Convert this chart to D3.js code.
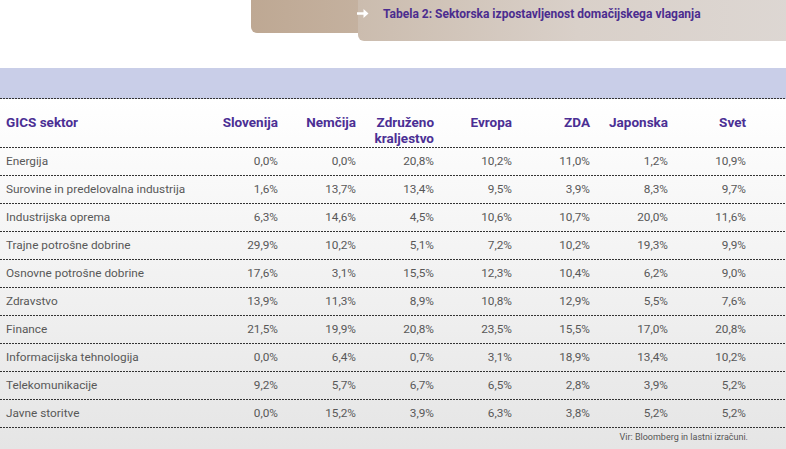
<!DOCTYPE html>
<html><head><meta charset="utf-8">
<script src="https://cdn.jsdelivr.net/npm/d3@7"></script>
<style>html,body{margin:0;padding:0;background:#fff;}svg{display:block;}</style>
</head><body>
<script>
const title = "Tabela 2: Sektorska izpostavljenost domačijskega vlaganja";
const headerLabel = "GICS sektor";
const countries = ["Slovenija","Nemčija","Združeno kraljestvo","Evropa","ZDA","Japonska","Svet"];
const sectors = ["Energija","Surovine in predelovalna industrija","Industrijska oprema","Trajne potrošne dobrine","Osnovne potrošne dobrine","Zdravstvo","Finance","Informacijska tehnologija","Telekomunikacije","Javne storitve"];
const slovenija = [0.0,1.6,6.3,29.9,17.6,13.9,21.5,0.0,9.2,0.0];
const nemcija   = [0.0,13.7,14.6,10.2,3.1,11.3,19.9,6.4,5.7,15.2];
const zdruzeno  = [20.8,13.4,4.5,5.1,15.5,8.9,20.8,0.7,6.7,3.9];
const evropa    = [10.2,9.5,10.6,7.2,12.3,10.8,23.5,3.1,6.5,6.3];
const zda       = [11.0,3.9,10.7,10.2,10.4,12.9,15.5,18.9,2.8,3.8];
const japonska  = [1.2,8.3,20.0,19.3,6.2,5.5,17.0,13.4,3.9,5.2];
const svet      = [10.9,9.7,11.6,9.9,9.0,7.6,20.8,10.2,5.2,5.2];
const source = "Vir: Bloomberg in lastni izračuni.";

const series = [slovenija,nemcija,zdruzeno,evropa,zda,japonska,svet];
const W = 786, H = 449;
const FONT = "Roboto, 'Open Sans', sans-serif";
const svg = d3.select("body").append("svg").attr("width",W).attr("height",H);
const defs = svg.append("defs");

function lg(id, stops, vertical){
  const g = defs.append("linearGradient").attr("id",id)
    .attr("x1",0).attr("y1",0).attr("x2",vertical?0:1).attr("y2",vertical?1:0);
  stops.forEach(s=>g.append("stop").attr("offset",s[0]).attr("stop-color",s[1]));
}
lg("b1",[[0,"#bea893"],[1,"#ddd5cf"]]);
lg("b2",[[0,"#cbbcae"],[0.5,"#d9d0c9"],[1,"#ddd7d3"]]);
lg("bg",[[0,"#ffffff"],[1,"#e5e5e5"]],true);

// background gradient for table area
svg.append("rect").attr("x",0).attr("y",99).attr("width",W).attr("height",H-99).attr("fill","url(#bg)");

// banner
svg.append("rect").attr("x",251).attr("y",-10).attr("width",W-251+10).attr("height",43).attr("rx",6).attr("fill","url(#b1)");
svg.append("rect").attr("x",358).attr("y",-10).attr("width",W-358+10).attr("height",51).attr("rx",6).attr("fill","url(#b2)");
// arrow icon
svg.append("path").attr("d","M357,12.2 H363.5 V9 L368.5,13.5 L363.5,18 V14.8 H357 Z").attr("fill","#fff");
svg.append("text").attr("x",383).attr("y",18).attr("fill","#4b2c8f").attr("font-family",FONT)
  .attr("font-size",12).attr("font-weight","bold").text(title);

// lavender band
svg.append("rect").attr("x",0).attr("y",68).attr("width",W).attr("height",31).attr("fill","#c9cee8");

// scales
const x = d3.scaleBand().domain(countries).range([200,746]).padding(0);
const y = d3.scaleBand().domain(sectors).range([147,427]).padding(0);

function dash(yy){
  svg.append("line").attr("x1",0).attr("x2",W).attr("y1",yy).attr("y2",yy)
    .attr("stroke","#333").attr("stroke-width",1).attr("stroke-dasharray","2,1");
}
dash(98.5);
dash(147.5);
sectors.forEach(s=>dash(Math.round(y(s)+y.bandwidth())+0.5));

// header
const hdr = svg.append("g").attr("font-family",FONT).attr("font-size",13.5).attr("font-weight","bold").attr("fill","#4b2f94");
hdr.append("text").attr("x",6).attr("y",127).text(headerLabel);
countries.forEach(c=>{
  const parts = c.split(" ");
  const t = hdr.append("text").attr("text-anchor","end").attr("x",x(c)+x.bandwidth()).attr("y",127);
  parts.forEach((p,i)=>t.append("tspan").attr("x",x(c)+x.bandwidth()).attr("dy",i?16:0).text(p));
});

// rows
const fmt = v => d3.format(".1f")(v).replace(".",",") + "%";
const body = svg.append("g").attr("font-family",FONT).attr("font-size",11.8).attr("fill","#585858");
sectors.forEach((s,i)=>{
  const cy = y(s)+y.bandwidth()/2+4;
  body.append("text").attr("x",6).attr("y",cy).text(s);
  countries.forEach((c,j)=>{
    body.append("text").attr("text-anchor","end").attr("x",x(c)+x.bandwidth()).attr("y",cy).text(fmt(series[j][i]));
  });
});

svg.append("text").attr("x",748).attr("y",440).attr("text-anchor","end").attr("font-family",FONT)
  .attr("font-size",9).attr("fill","#555").text(source);
</script>
</body></html>
